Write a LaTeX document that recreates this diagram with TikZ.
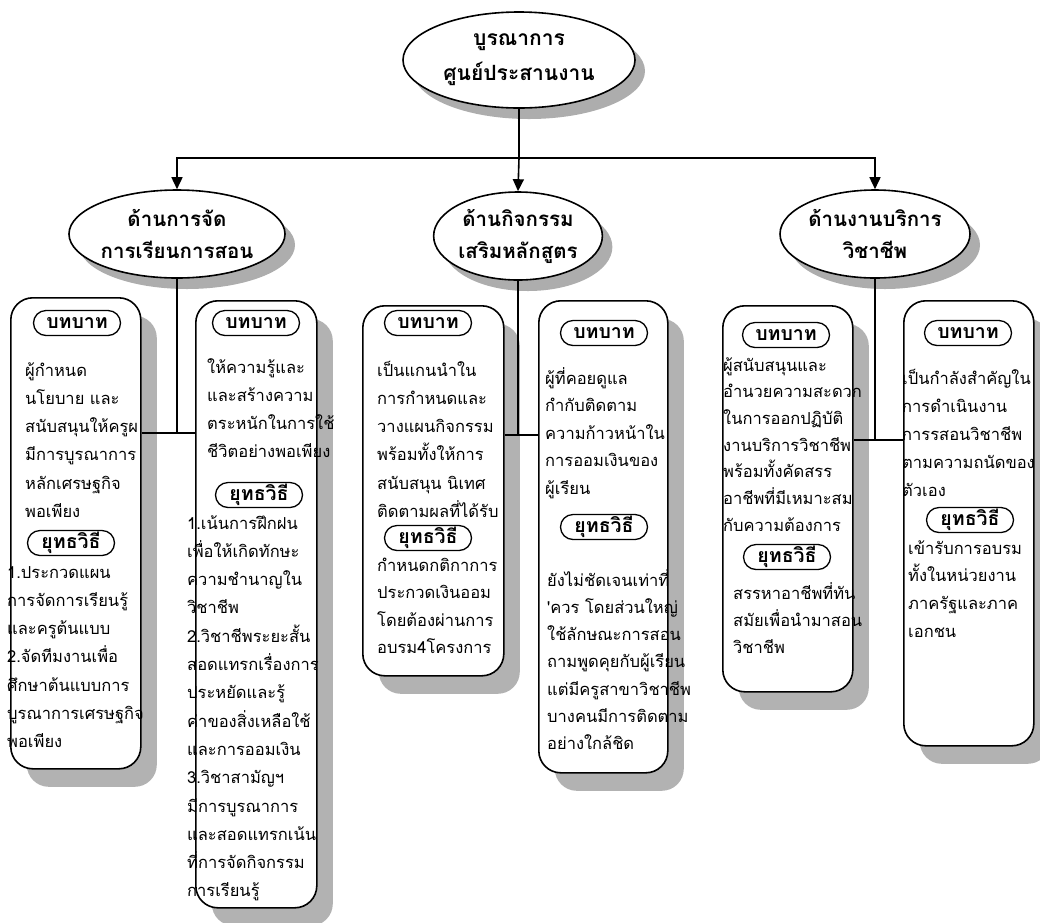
\documentclass[tikz,border=0pt]{standalone}
\usepackage{fontspec}
\newfontfamily\thai[Script=Thai]{Loma}
\usetikzlibrary{shapes.geometric,shapes.misc,shadows,arrows.meta,calc}
\tikzset{
 ell/.style={ellipse, draw, line width=1.6pt, fill=white, inner sep=0pt, align=center,
   font=\thai\bfseries\fontsize{20.5}{32}\selectfont,
   drop shadow={shadow xshift=10pt, shadow yshift=-11pt, fill=black!32, opacity=1}},
 boxx/.style={rectangle, rounded corners=22pt, draw, line width=1.6pt, fill=white, anchor=north west, inner sep=0pt,
   drop shadow={shadow xshift=16pt, shadow yshift=-18pt, fill=black!30, opacity=1}},
 pill/.style={rounded rectangle, draw, line width=1.3pt, fill=white, minimum width=87pt, minimum height=25pt, inner sep=0pt,
   font=\thai\bfseries\fontsize{19.5}{22}\selectfont},
 txt/.style={inner sep=0pt, anchor=base west, font=\thai\fontsize{16.5}{20}\selectfont},
 conn/.style={line width=1.6pt},
 arr/.style={-{Triangle[length=12pt,width=11pt]}}
}
% #1 prefix, #2 x, #3 first line centre y, #4 spacing, #5 lines
\newcommand\placelines[5]{%
  \foreach \t [count=\i from 0] in {#5} {
    \node[txt] (#1\i) at (#2, {#3+6+\i*#4}) {\t};
  }%
}
\begin{document}
\begin{tikzpicture}[x=1pt,y=-1pt]
\useasboundingbox (0,0) rectangle (1040,922);

% top and second level
\node[ell, minimum width=232pt, minimum height=96pt, font=\thai\bfseries\fontsize{21}{35}\selectfont] (e0) at (519,60) {บูรณาการ\\ศูนย์ประสานงาน};
\node[ell, minimum width=176pt, minimum height=88pt] (e1) at (177,234) {ด้านการจัด\\การเรียนการสอน};
\node[ell, minimum width=168pt, minimum height=88pt] (e2) at (518,236) {ด้านกิจกรรม\\เสริมหลักสูตร};
\node[ell, minimum width=190pt, minimum height=88pt] (e3) at (875,234) {ด้านงานบริการ\\วิชาชีพ};

\coordinate (hub) at (519,158);
\draw[conn] (e0.south) -- (hub);
\draw[conn,arr] (hub) -- (e2.north);
\draw[conn,arr] (hub) -| (e1.north);
\draw[conn,arr] (hub) -| (e3.north);

% boxes
\node[boxx, minimum width=130pt, minimum height=471pt] (b1) at (10,297) {};
\node[boxx, minimum width=121pt, minimum height=607pt] (b2) at (195,300) {};
\node[boxx, minimum width=141pt, minimum height=370pt] (b3) at (362,305) {};
\node[boxx, minimum width=129pt, minimum height=472pt] (b4) at (538,300) {};
\node[boxx, minimum width=130pt, minimum height=386pt] (b5) at (722,305) {};
\node[boxx, minimum width=130pt, minimum height=445pt] (b6) at (903,300) {};

% group connectors
\coordinate (j1) at (e1.south |- 0,433);
\coordinate (j2) at (e2.south |- 0,435);
\coordinate (j3) at (e3.south |- 0,440);
\draw[conn] (e1.south) -- (j1);
\draw[conn] (b1.east |- j1) -- (b2.west |- j1);
\draw[conn] (e2.south) -- (j2);
\draw[conn] (b3.east |- j2) -- (b4.west |- j2);
\draw[conn] (e3.south) -- (j3);
\draw[conn] (b5.east |- j3) -- (b6.west |- j3);

% pills
\node[pill] (p1a) at (77,323) {บทบาท};
\node[pill] (p1b) at (71,543) {ยุทธวิธี};
\node[pill] (p2a) at (256,323) {บทบาท};
\node[pill] (p2b) at (259,495) {ยุทธวิธี};
\node[pill] (p3a) at (428,323) {บทบาท};
\node[pill] (p3b) at (428,538) {ยุทธวิธี};
\node[pill] (p4a) at (604,333) {บทบาท};
\node[pill] (p4b) at (604,527) {ยุทธวิธี};
\node[pill] (p5a) at (786,335) {บทบาท};
\node[pill] (p5b) at (787,557) {ยุทธวิธี};
\node[pill] (p6a) at (968,333) {บทบาท};
\node[pill] (p6b) at (970,520) {ยุทธวิธี};

% texts
\placelines{t1a}{25}{370}{28.3}{ผู้กำหนด,นโยบาย และ,สนับสนุนให้ครูผ,มีการบูรณาการ,หลักเศรษฐกิจ,พอเพียง}
\placelines{t1b}{7}{572}{28.3}{1.ประกวดแผน,การจัดการเรียนรู้,และครูต้นแบบ,2.จัดทีมงานเพื่อ,ศึกษาต้นแบบการ,บูรณาการเศรษฐกิจ,พอเพียง}
\placelines{t2a}{207}{367}{28.3}{ให้ความรู้และ,และสร้างความ,ตระหนักในการใช้,ชีวิตอย่างพอเพียง}
\placelines{t2b}{187}{523}{28.3}{1.เน้นการฝึกฝน,เพื่อให้เกิดทักษะ,ความชำนาญใน,วิชาชีพ,2.วิชาชีพระยะสั้น,สอดแทรกเรื่องการ,ประหยัดและรู้,ค่าของสิ่งเหลือใช้,และการออมเงิน,3.วิชาสามัญฯ,มีการบูรณาการ,และสอดแทรกเน้น,ที่การจัดกิจกรรม,การเรียนรู้}
\placelines{t3a}{377}{370}{28.3}{เป็นแกนนำใน,การกำหนดและ,วางแผนกิจกรรม,พร้อมทั้งให้การ,สนับสนุน นิเทศ,ติดตามผลที่ได้รับ}
\placelines{t3b}{377}{565}{27.5}{กำหนดกติกาการ,ประกวดเงินออม,โดยต้องผ่านการ,อบรม4โครงการ}
\placelines{t4a}{545}{378}{27.5}{ผู้ที่คอยดูแล,กำกับติดตาม,ความก้าวหน้าใน,การออมเงินของ,ผู้เรียน}
\placelines{t4b}{547}{580}{27.3}{ยังไม่ชัดเจนเท่าที่,'ควร โดยส่วนใหญ่,ใช้ลักษณะการสอน,ถามพูดคุยกับผู้เรียน,แต่มีครูสาขาวิชาชีพ,บางคนมีการติดตาม,อย่างใกล้ชิด}
\placelines{t5a}{723}{365}{26.7}{ผู้สนับสนุนและ,อำนวยความสะดวก,ในการออกปฏิบัติ,งานบริการวิชาชีพ,พร้อมทั้งคัดสรร,อาชีพที่มีเหมาะสม,กับความต้องการ}
\placelines{t5b}{733}{593}{27}{สรรหาอาชีพที่ทัน,สมัยเพื่อนำมาสอน,วิชาชีพ}
\placelines{t6a}{902}{378}{28}{เป็นกำลังสำคัญใน,การดำเนินงาน,การรสอนวิชาชีพ,ตามความถนัดของ,ตัวเอง}
\placelines{t6b}{908}{548}{27.7}{เข้ารับการอบรม,ทั้งในหน่วยงาน,ภาครัฐและภาค,เอกชน}
\end{tikzpicture}
\end{document}
